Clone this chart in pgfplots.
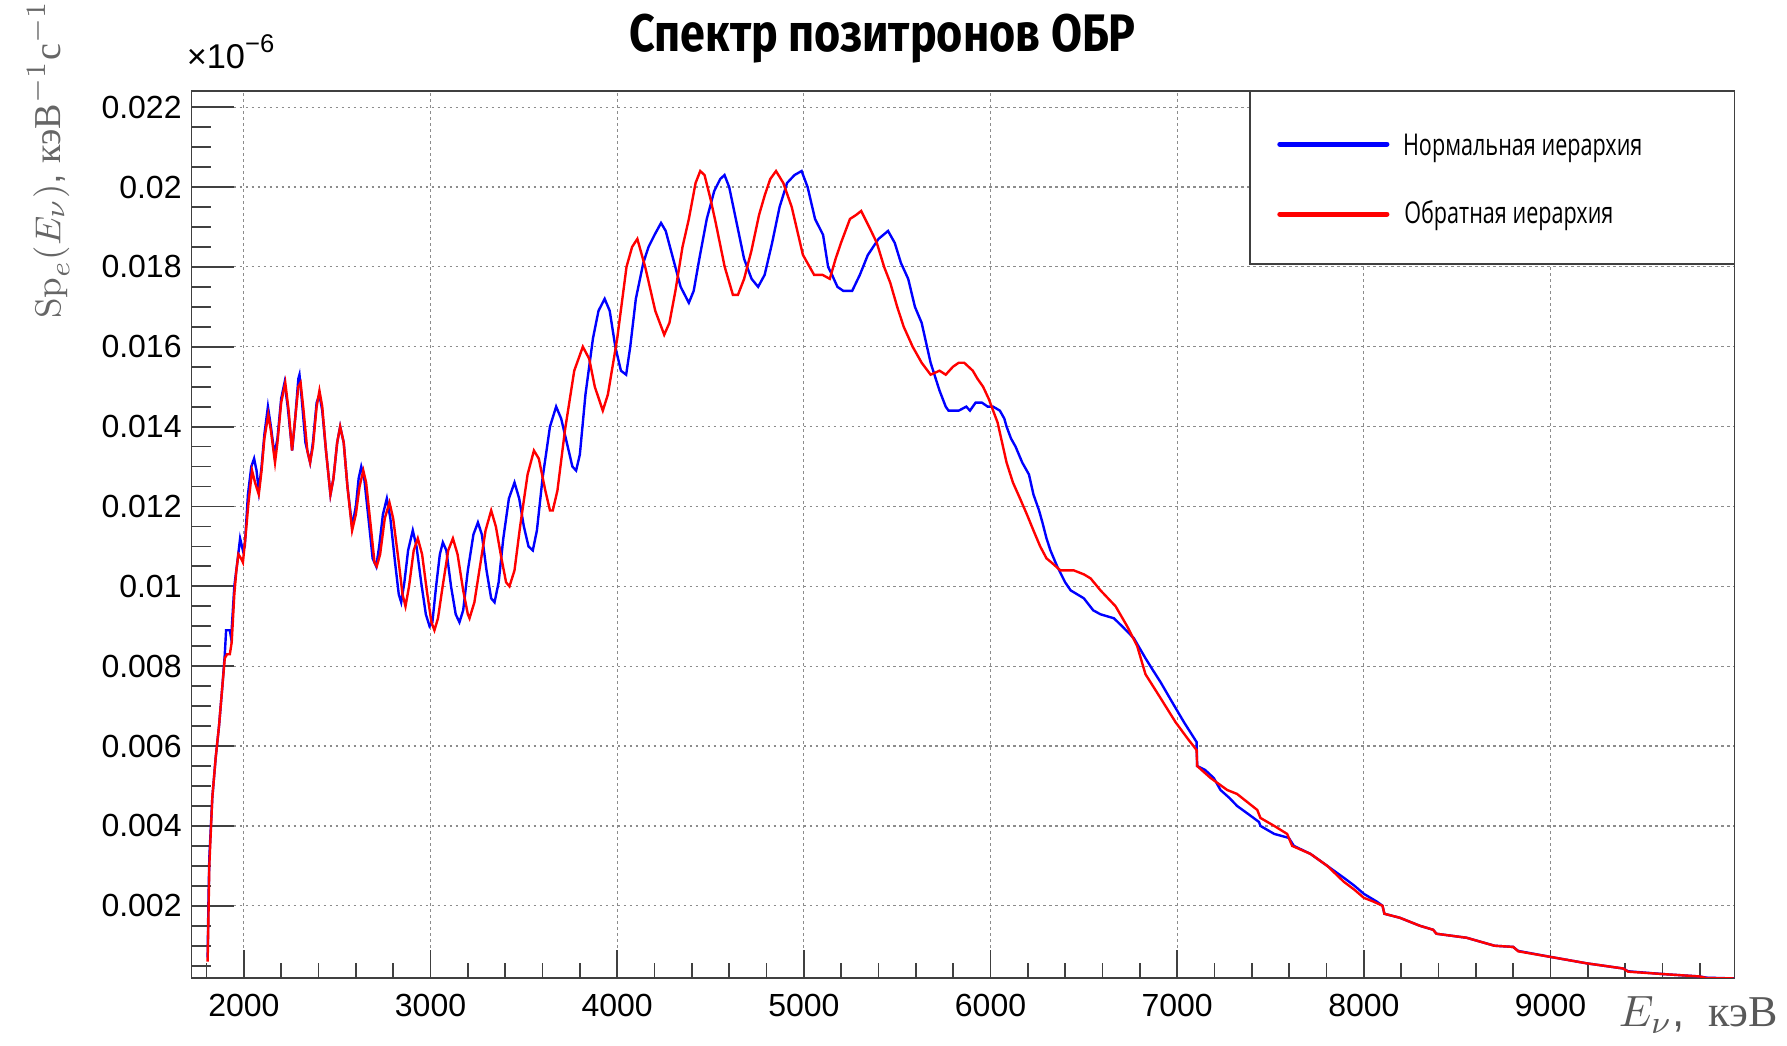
\documentclass[border=0pt]{standalone}
\usepackage[no-math]{fontspec}
\setmainfont{Liberation Sans}
\newfontfamily\titlefont[FakeStretch=0.85]{Fira Sans}
\newfontfamily\legendfont[FakeStretch=0.72]{Open Sans}
\newfontfamily\cyrserif{Liberation Serif}
\usepackage{pgfplots}
\usepackage{pgfplotstable}
\pgfplotsset{compat=1.18}

% positron spectrum, normal hierarchy
\pgfplotstableread{
E S
1806 0.0007
1810 0.0020
1815 0.0032
1831 0.0047
1849 0.0057
1867 0.0065
1885 0.0075
1898 0.0083
1905 0.0089
1925 0.0089
1932 0.0087
1949 0.0100
1965 0.0106
1980 0.0112
1995 0.0109
2005 0.0110
2022 0.0123
2040 0.0130
2055 0.0132
2068 0.0129
2080 0.0124
2095 0.0130
2110 0.0138
2129 0.0145
2145 0.0140
2164 0.0133
2180 0.0137
2200 0.0147
2218 0.0151
2235 0.0145
2259 0.0134
2275 0.0142
2292 0.0152
2298 0.0153
2310 0.0147
2330 0.0136
2355 0.0131
2370 0.0136
2390 0.0146
2405 0.0148
2420 0.0144
2440 0.0134
2464 0.0123
2480 0.0127
2500 0.0136
2516 0.0140
2535 0.0136
2555 0.0125
2580 0.0115
2600 0.0120
2615 0.0127
2629 0.0130
2645 0.0127
2670 0.0116
2690 0.0107
2709 0.0105
2725 0.0110
2745 0.0118
2766 0.0122
2785 0.0117
2810 0.0106
2830 0.0098
2843 0.0096
2860 0.0101
2880 0.0109
2905 0.0114
2925 0.0110
2950 0.0101
2975 0.0093
2995 0.0090
3010 0.0091
3030 0.0100
3050 0.0108
3066 0.0111
3085 0.0109
3110 0.0100
3135 0.0093
3155 0.0091
3175 0.0094
3200 0.0104
3230 0.0113
3254 0.0116
3275 0.0113
3300 0.0104
3325 0.0097
3343 0.0096
3365 0.0101
3390 0.0112
3420 0.0122
3450 0.0126
3475 0.0122
3500 0.0115
3525 0.0110
3548 0.0109
3570 0.0114
3600 0.0127
3640 0.0140
3673 0.0145
3700 0.0142
3730 0.0136
3760 0.0130
3780 0.0129
3800 0.0133
3830 0.0148
3870 0.0162
3900 0.0169
3933 0.0172
3960 0.0169
3990 0.0160
4020 0.0154
4048 0.0153
4070 0.0160
4100 0.0172
4140 0.0181
4168 0.0185
4200 0.0188
4235 0.0191
4260 0.0189
4300 0.0182
4340 0.0175
4384 0.0171
4410 0.0174
4440 0.0182
4480 0.0192
4520 0.0199
4552 0.0202
4575 0.0203
4600 0.0200
4640 0.0191
4680 0.0182
4720 0.0177
4755 0.0175
4790 0.0178
4830 0.0186
4870 0.0195
4910 0.0201
4950 0.0203
4988 0.0204
5020 0.0200
5060 0.0192
5103 0.0188
5130 0.0180
5151 0.0178
5180 0.0175
5211 0.0174
5259 0.0174
5300 0.0178
5343 0.0183
5400 0.0187
5451 0.0189
5487 0.0186
5520 0.0181
5559 0.0177
5595 0.0170
5631 0.0166
5679 0.0156
5727 0.0149
5760 0.0145
5775 0.0144
5830 0.0144
5870 0.0145
5890 0.0144
5920 0.0146
5954 0.0146
5985 0.0145
6014 0.0145
6050 0.0144
6074 0.0142
6086 0.0140
6110 0.0137
6134 0.0135
6170 0.0131
6206 0.0128
6230 0.0123
6260 0.0119
6278 0.0116
6300 0.0112
6321 0.0109
6357 0.0105
6400 0.0101
6429 0.0099
6500 0.0097
6550 0.0094
6589 0.0093
6661 0.0092
6705 0.0090
6768 0.0087
6830 0.0082
6870 0.0079
6911 0.0076
6973 0.0071
7036 0.0066
7104 0.0061
7107 0.0055
7150 0.0054
7196 0.0052
7232 0.0049
7280 0.0047
7321 0.0045
7380 0.0043
7438 0.0041
7446 0.0040
7520 0.0038
7598 0.0037
7625 0.0035
7714 0.0033
7804 0.0030
7893 0.0027
7950 0.0025
8000 0.0023
8071 0.0021
8100 0.0020
8110 0.0018
8193 0.0017
8300 0.0015
8371 0.0014
8389 0.0013
8550 0.0012
8700 0.0010
8800 0.00097
8827 0.00087
9000 0.00072
9193 0.00056
9389 0.00043
9416 0.00036
9604 0.00029
9800 0.00023
9836 0.00020
9985 0.00018
}\normaltable

% positron spectrum, inverted hierarchy
\pgfplotstableread{
E S
1806 0.0006
1810 0.0016
1815 0.0030
1831 0.0047
1849 0.0057
1867 0.0065
1885 0.0075
1898 0.0082
1910 0.0083
1925 0.0083
1935 0.0086
1949 0.0098
1960 0.0104
1971 0.0108
1985 0.0107
1995 0.0106
2010 0.0113
2025 0.0121
2044 0.0129
2060 0.0126
2080 0.0123
2095 0.0129
2110 0.0137
2131 0.0143
2145 0.0139
2167 0.0131
2180 0.0136
2200 0.0146
2222 0.0151
2240 0.0144
2258 0.0134
2275 0.0142
2292 0.0150
2304 0.0151
2320 0.0144
2340 0.0134
2355 0.0131
2370 0.0135
2390 0.0145
2405 0.0149
2420 0.0145
2440 0.0134
2464 0.0123
2480 0.0127
2500 0.0136
2516 0.0140
2535 0.0136
2555 0.0125
2580 0.0114
2600 0.0118
2620 0.0125
2640 0.0129
2655 0.0126
2680 0.0115
2700 0.0106
2712 0.0105
2730 0.0108
2755 0.0117
2780 0.0121
2800 0.0117
2830 0.0106
2850 0.0098
2866 0.0095
2885 0.0100
2910 0.0109
2932 0.0112
2955 0.0108
2980 0.0099
3005 0.0091
3021 0.0089
3040 0.0092
3065 0.0100
3095 0.0109
3120 0.0112
3145 0.0108
3175 0.0099
3200 0.0093
3209 0.0092
3235 0.0096
3265 0.0105
3295 0.0114
3325 0.0119
3350 0.0115
3380 0.0107
3405 0.0101
3423 0.0100
3450 0.0104
3480 0.0115
3520 0.0128
3554 0.0134
3580 0.0132
3615 0.0124
3640 0.0119
3655 0.0119
3680 0.0124
3720 0.0139
3770 0.0154
3816 0.0160
3850 0.0157
3880 0.0150
3923 0.0144
3950 0.0148
4000 0.0162
4050 0.0180
4080 0.0185
4108 0.0187
4150 0.0180
4204 0.0169
4252 0.0163
4280 0.0166
4312 0.0174
4350 0.0185
4384 0.0192
4420 0.0201
4445 0.0204
4468 0.0203
4500 0.0197
4528 0.0191
4576 0.0180
4620 0.0173
4647 0.0173
4680 0.0177
4719 0.0184
4760 0.0193
4791 0.0198
4820 0.0202
4851 0.0204
4890 0.0201
4935 0.0195
4970 0.0188
4995 0.0183
5055 0.0178
5100 0.0178
5139 0.0177
5170 0.0182
5199 0.0186
5247 0.0192
5280 0.0193
5307 0.0194
5350 0.0190
5391 0.0186
5430 0.0180
5463 0.0176
5500 0.0170
5535 0.0165
5583 0.0160
5631 0.0156
5679 0.0153
5727 0.0154
5760 0.0153
5799 0.0155
5830 0.0156
5859 0.0156
5882 0.0155
5905 0.0154
5930 0.0152
5960 0.0150
5990 0.0147
6038 0.0141
6086 0.0131
6120 0.0126
6158 0.0122
6195 0.0118
6230 0.0114
6266 0.0110
6300 0.0107
6326 0.0106
6374 0.0104
6446 0.0104
6500 0.0103
6536 0.0102
6589 0.0099
6670 0.0095
6732 0.0090
6786 0.0085
6830 0.0078
6911 0.0072
6991 0.0066
7054 0.0062
7104 0.0059
7107 0.0055
7179 0.0052
7268 0.0049
7321 0.0048
7429 0.0044
7446 0.0042
7520 0.0040
7589 0.0038
7616 0.0035
7714 0.0033
7804 0.0030
7893 0.0026
7950 0.0024
8000 0.0022
8054 0.0021
8100 0.0020
8110 0.0018
8193 0.0017
8300 0.0015
8371 0.0014
8389 0.0013
8550 0.0012
8700 0.0010
8800 0.00097
8827 0.00086
9000 0.00072
9193 0.00056
9389 0.00043
9416 0.00035
9604 0.00029
9800 0.00023
9836 0.00019
9985 0.00018
}\invertedtable

\begin{document}
\begin{tikzpicture}
\useasboundingbox (-47.9pt,-17.05pt) rectangle (398.9pt,244.45pt);
\begin{axis}[
  at={(0pt,0pt)}, anchor=south west,
  scale only axis, width=385.75pt, height=221.65pt,
  xmin=1720, xmax=9985, ymin=0.0002, ymax=0.0224,
  axis line style={black!75, line width=0.45pt},
  tick pos=left, tick align=inside,
  xtick={2000,3000,4000,5000,6000,7000,8000,9000},
  xticklabels={2000,3000,4000,5000,6000,7000,8000,9000},
  minor xtick={1800,2000,...,9800},
  ytick={0.002,0.004,0.006,0.008,0.010,0.012,0.014,0.016,0.018,0.020,0.022},
  yticklabels={0.002,0.004,0.006,0.008,0.01,0.012,0.014,0.016,0.018,0.02,0.022},
  minor ytick={0.0005,0.001,...,0.0222},
  xtick style={black!75, line width=0.45pt, /pgfplots/major tick length=7pt, /pgfplots/minor tick length=3.6pt},
  ytick style={black!75, line width=0.45pt, /pgfplots/major tick length=10.5pt, /pgfplots/minor tick length=4.75pt},
  grid=major,
  grid style={black!45, line width=0.3pt, dash pattern=on 0.6pt off 0.9pt},
  ticklabel style={font=\fontsize{8}{9}\selectfont},
  /pgf/number format/assume math mode=true,
  xticklabel style={inner sep=0pt, yshift=-4pt},
  yticklabel style={inner sep=0pt, xshift=-2.3pt},
  scaled y ticks=false,
]
\addplot[blue, line width=0.6pt, sharp plot] table[x=E, y=S] {\normaltable};
\addplot[red, line width=0.6pt, sharp plot] table[x=E, y=S] {\invertedtable};
\end{axis}

% legend
\filldraw[fill=white, draw=black!75, line width=0.45pt] (264.6pt,178.35pt) rectangle (385.75pt,221.65pt);
\draw[blue, line width=1.3pt, line cap=round] (272.1pt,208.4pt) -- (298.85pt,208.4pt);
\draw[red, line width=1.3pt, line cap=round] (272.1pt,190.9pt) -- (298.85pt,190.9pt);
\node[anchor=base west, inner sep=0pt, font=\legendfont\fontsize{7.5}{9}\selectfont] at (302.7pt,205.45pt) {Нормальная иерархия};
\node[anchor=base west, inner sep=0pt, font=\legendfont\fontsize{7.5}{9}\selectfont] at (303pt,188.6pt) {Обратная иерархия};

% title and axis titles
\node[anchor=base, inner sep=0pt, font=\titlefont\bfseries\fontsize{13.2}{15}\selectfont] at (172.8pt,231.6pt) {Спектр позитронов ОБР};
\node[anchor=base west, inner sep=0pt, font=\fontsize{8.6}{10}\selectfont] at (-1.4pt,227.35pt) {×10\raisebox{0.85ex}{\fontsize{6.4}{7}\selectfont −6}};
\node[anchor=base east, inner sep=0pt, text=black!65, font=\fontsize{11}{13}\selectfont] at (396.8pt,-12.3pt) {$E_\nu$,\ \ {\cyrserif кэВ}};
\node[anchor=base east, rotate=90, inner sep=0pt, text=black!60, font=\fontsize{9.5}{11}\selectfont] at (-32.8pt,244.4pt) {$\mathrm{Sp}_e(E_\nu)$, {\cyrserif кэВ}$^{-1}${\cyrserif с}$^{-1}$};
\end{tikzpicture}
\end{document}
